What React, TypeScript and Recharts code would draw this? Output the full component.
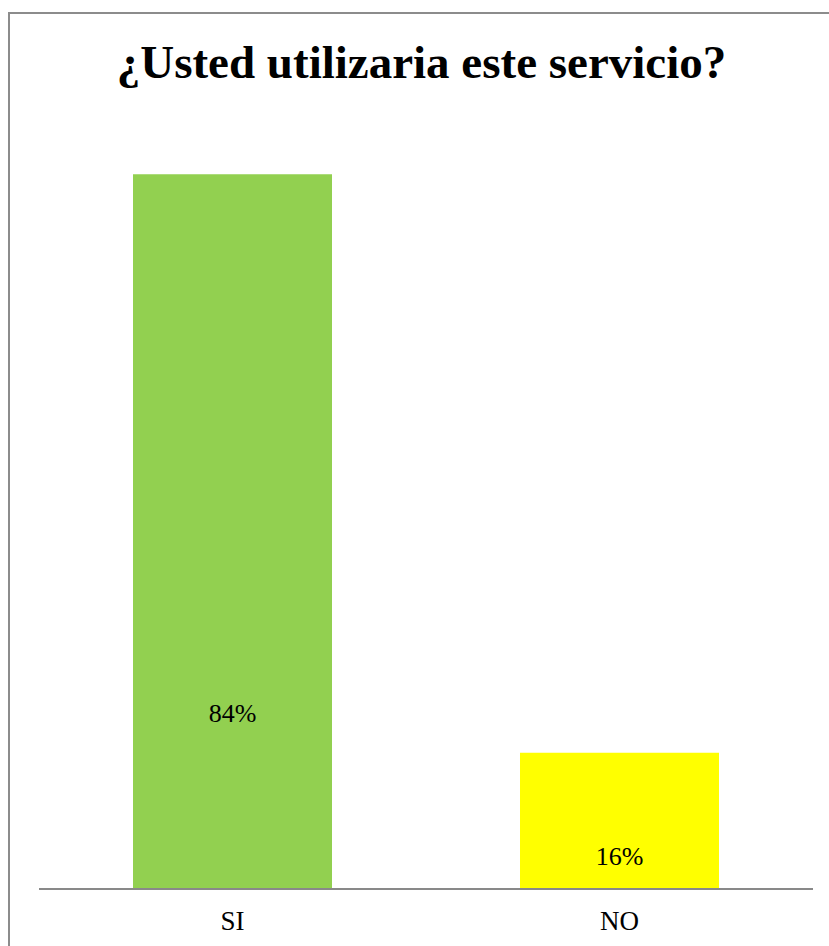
import React from 'react';
import { BarChart, Bar, XAxis, YAxis, Cell, LabelList } from 'recharts';

// Encuesta: ¿Usted utilizaria este servicio?
const categories = ['SI', 'NO'];
const percentages = [84, 16];
const barColors = ['#92D050', '#FFFF00'];

const data = categories.map((name, i) => ({ name, value: percentages[i] }));

// hand-placed label heights above the base, like in the original sheet
const labelLift = [167, 24];

const serif = 'Liberation Serif';

const renderValueLabel = (props: any) => {
  const { x, y, width, height, index, value } = props;
  const cx = Number(x) + Number(width) / 2;
  const base = Number(y) + Number(height);
  return (
    <text
      x={cx}
      y={base - labelLift[index]}
      textAnchor="middle"
      style={{ fontFamily: serif, fontSize: 26 }}
      fill="#000"
    >
      {`${value}%`}
    </text>
  );
};

const renderTick = (props: any) => {
  const { x, y, payload } = props;
  return (
    <text
      x={x}
      y={y + 33}
      textAnchor="middle"
      style={{ fontFamily: serif, fontSize: 27 }}
      fill="#000"
    >
      {payload.value}
    </text>
  );
};

export default function App() {
  return (
    <div
      style={{
        position: 'absolute',
        left: 0,
        top: 0,
        width: 829,
        height: 946,
        overflow: 'hidden',
        background: '#fff',
      }}
    >
      <div
        style={{
          position: 'absolute',
          left: 8,
          top: 12,
          width: 900,
          height: 1000,
          border: '2px solid #8c8c8c',
          boxSizing: 'border-box',
        }}
      />
      <svg width={829} height={120} style={{ position: 'absolute', left: 0, top: 0 }}>
        <text
          x={421.5}
          y={78}
          textAnchor="middle"
          style={{ fontFamily: serif, fontWeight: 'bold', fontSize: 47 }}
          fill="#000"
        >
          ¿Usted utilizaria este servicio?
        </text>
      </svg>
      <div style={{ position: 'absolute', left: 0, top: 0 }}>
        <BarChart
          width={829}
          height={946}
          data={data}
          margin={{ top: 38, right: 16, bottom: 17, left: 39 }}
          barSize={199}
        >
          <XAxis
            dataKey="name"
            axisLine={{ stroke: '#898989', strokeWidth: 2 }}
            tickLine={false}
            tick={renderTick}
            height={40}
          />
          <YAxis hide domain={[0, 100]} />
          <Bar dataKey="value" isAnimationActive={false}>
            {data.map((d, i) => (
              <Cell key={d.name} fill={barColors[i]} />
            ))}
            <LabelList dataKey="value" content={renderValueLabel} />
          </Bar>
        </BarChart>
      </div>
    </div>
  );
}
